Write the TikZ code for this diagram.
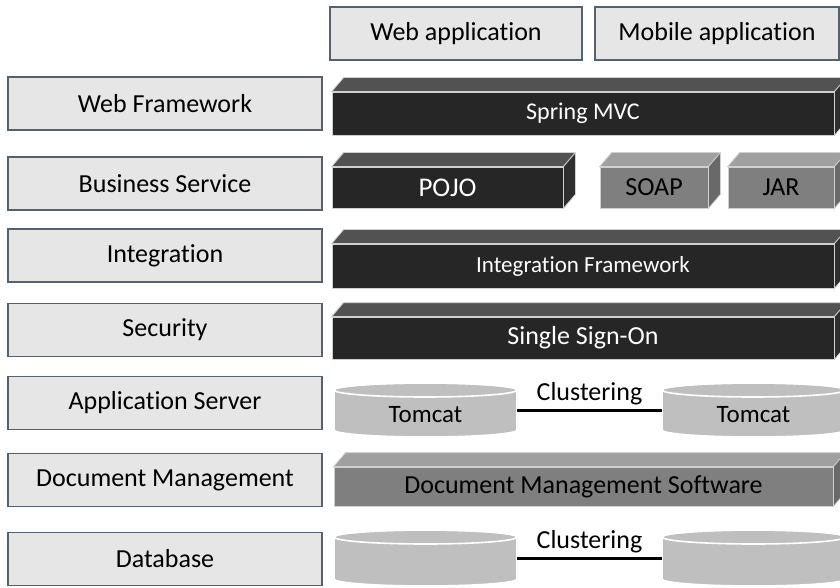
\documentclass[tikz,border=0pt]{standalone}
\usepackage{fontspec}
\setmainfont[Ligatures={NoCommon}]{Carlito}
\usepackage{xcolor}
\usetikzlibrary{calc}

\definecolor{lfill}{HTML}{E7E6E6}
\definecolor{lborder}{HTML}{56616E}
\definecolor{darkfront}{HTML}{262626}
\definecolor{darktop}{HTML}{525252}
\definecolor{darkside}{HTML}{2E2E2E}
\definecolor{grayfront}{HTML}{7F7F7F}
\definecolor{graytop}{HTML}{A0A0A0}
\definecolor{grayside}{HTML}{696969}
\definecolor{cylgray}{HTML}{BFBFBF}
\definecolor{edgecol}{HTML}{D0D0D0}

\tikzset{
  layer/.style={draw=lborder, fill=lfill, line width=0.6pt, inner sep=0pt,
    minimum width=157pt, minimum height=26.5pt, font=\fontsize{13}{15}\selectfont},
  darkface/.style={fill=darkfront, draw=edgecol, line width=0.4pt, inner sep=0pt,
    text=white, font=\fontsize{13}{15}\selectfont},
  grayface/.style={fill=grayfront, draw=edgecol, line width=0.4pt, inner sep=0pt,
    text=black, font=\fontsize{13}{15}\selectfont},
  cylarea/.style={minimum width=91.5pt, minimum height=#1, inner sep=0pt,
    path picture={
      \filldraw[fill=cylgray, draw=white, line width=0.8pt]
        let \p1=(path picture bounding box.north west),
            \p2=(path picture bounding box.south east),
            \n1={0.5*(\x2-\x1)} in
        (\x1,\y1-3.5pt) -- (\x1,\y2+3.5pt)
        arc[start angle=180, end angle=360, x radius=\n1, y radius=3.5pt]
        -- (\x2,\y1-3.5pt)
        arc[start angle=0, end angle=180, x radius=\n1, y radius=3.5pt]
        -- cycle;
      \draw[white, line width=0.8pt]
        let \p1=(path picture bounding box.north west),
            \p2=(path picture bounding box.south east),
            \n1={0.5*(\x2-\x1)} in
        (\x1+\n1,\y1-3.5pt) ellipse[x radius=\n1, y radius=3.5pt];
    }},
  cluster/.style={line width=1.5pt, black},
  cyltext/.style={font=\fontsize{12.5}{15}\selectfont}
}

\begin{document}
\begin{tikzpicture}[x=0.5pt, y=-0.5pt]
    \useasboundingbox (0,0) rectangle (840,588);
    \clip (0,0) rectangle (840,588);

    % applications on top
    \node[layer, minimum width=126pt] (webapp) at (456,33.5) {Web application};
    \node[layer, minimum width=122pt] (mobapp) at (717,33.5) {Mobile application};

    % layer names
    \node[layer] (webfw) at (165,103.5) {Web Framework};
    \node[layer] (bizsrv) at (165,183.5) {Business Service};
    \node[layer] (integ) at (165,255.5) {Integration};
    \node[layer] (secu) at (165,330) {Security};
    \node[layer] (appsrv) at (165,403) {Application Server};
    \node[layer] (docmgmt) at (165,480) {Document Management};
    \node[layer] (dbase) at (165,559) {Database};

    % blocks, front faces
    \node[darkface, minimum width=251pt, minimum height=21.5pt, font=\fontsize{12}{14}\selectfont] (mvc) at (583,113.5) {Spring MVC};
    \node[darkface, minimum width=115.5pt, minimum height=20.5pt, font=\fontsize{13.5}{15}\selectfont] (pojo) at (447.5,187.5) {POJO};
    \node[grayface, minimum width=54pt, minimum height=20.5pt] (soap) at (654,187.5) {SOAP};
    \node[grayface, minimum width=53pt, minimum height=20.5pt] (jar) at (781,187.5) {JAR};
    \node[darkface, minimum width=251pt, minimum height=22pt, font=\fontsize{11.5}{14}\selectfont] (intfw) at (583,266) {Integration Framework};
    \node[darkface, minimum width=251pt, minimum height=21pt] (sso) at (583,338) {Single Sign-On};
    \node[grayface, minimum width=249.5pt, minimum height=19.5pt] (dms) at (583.5,486.5) {Document Management Software};

    % top and side faces
    \foreach \b in {mvc,pojo,intfw,sso} {
      \filldraw[fill=darktop, draw=edgecol, line width=0.4pt] (\b.north west) -- ++(12,-14)
        -- ([shift={(12,-14)}]\b.north east) -- (\b.north east) -- cycle;
      \filldraw[fill=darkside, draw=edgecol, line width=0.4pt] (\b.north east) -- ([shift={(12,-14)}]\b.north east)
        -- ([shift={(12,-14)}]\b.south east) -- (\b.south east) -- cycle;
    }
    \foreach \b in {soap,jar,dms} {
      \filldraw[fill=graytop, draw=edgecol, line width=0.4pt] (\b.north west) -- ++(12,-14)
        -- ([shift={(12,-14)}]\b.north east) -- (\b.north east) -- cycle;
      \filldraw[fill=grayside, draw=edgecol, line width=0.4pt] (\b.north east) -- ([shift={(12,-14)}]\b.north east)
        -- ([shift={(12,-14)}]\b.south east) -- (\b.south east) -- cycle;
    }

    % servers
    \node[cylarea=27pt, label={[name=tc1t, cyltext, yshift=-2.5pt]center:Tomcat}] (tc1) at (425.5,410) {};
    \node[cylarea=27pt, label={[name=tc2t, cyltext, yshift=-2.5pt]center:Tomcat}] (tc2) at (753.5,410) {};
    \draw[cluster] (tc1.east) -- node[above=-1.5pt, font=\fontsize{13}{15}\selectfont] (cl1) {Clustering} (tc2.west);

    % databases
    \node[cylarea=28pt] (db1) at (425.5,558) {};
    \node[cylarea=28pt] (db2) at (753.5,558) {};
    \draw[cluster] (db1.east) -- node[above=-1.5pt, font=\fontsize{13}{15}\selectfont] (cl2) {Clustering} (db2.west);
\end{tikzpicture}
\end{document}
